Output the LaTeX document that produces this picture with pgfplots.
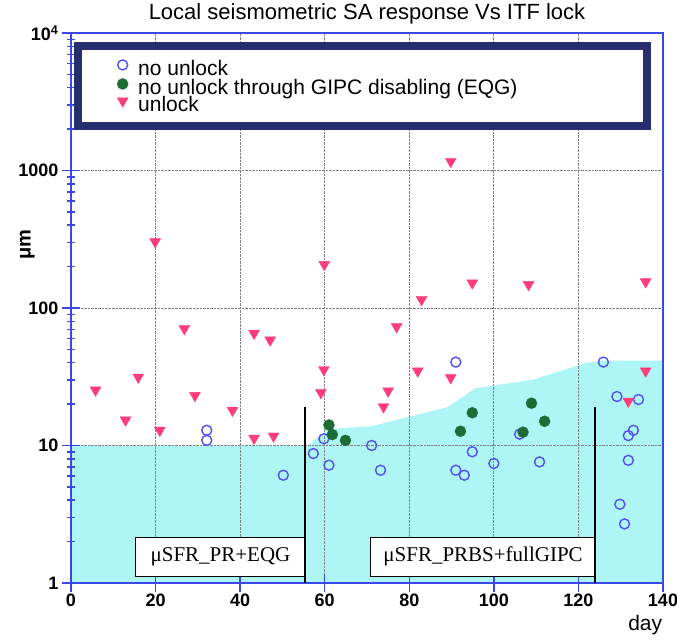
\documentclass[border=0pt]{standalone}
\usepackage{fontspec}
\setmainfont{Liberation Sans}
\newfontfamily\seriffont{Liberation Serif}
\usepackage{pgfplots}
\pgfplotsset{compat=1.18}
\definecolor{axblue}{HTML}{3A48E8}
\definecolor{navybox}{HTML}{262E70}
\definecolor{cyanfill}{HTML}{AEF6F6}
\definecolor{pinkm}{HTML}{FF3D7A}
\definecolor{bluec}{HTML}{5050F5}
\definecolor{greenm}{HTML}{1D6B35}
\begin{document}
\begin{tikzpicture}
\begin{axis}[
  set layers,
  scale only axis, width=592pt, height=550pt,
  ymode=log, xmin=0, xmax=140, ymin=1, ymax=10000,
  xtick={0,20,40,60,80,100,120,140},
  xticklabels={0,20,40,60,80,100,120,140},
  ytick={1,10,100,1000,10000},
  yticklabels={1,10,100,1000,10\textsuperscript{4}},
  minor ytick={2,3,4,5,6,7,8,9,20,30,40,50,60,70,80,90,200,300,400,500,600,700,800,900,2000,3000,4000,5000,6000,7000,8000,9000},
  xtick pos=bottom, ytick pos=left,
  tick align=center, major tick length=18pt, minor tick length=8pt,
  tick style={axblue, line width=1.5pt},
  axis line style={axblue, line width=1.8pt},
  grid=major,
  major grid style={densely dotted, gray, line width=0.9pt},
  tick label style={font=\fontsize{18}{18}\selectfont\bfseries},
  xticklabel style={yshift=2pt},
  title={Local seismometric SA response Vs ITF lock},
  title style={font=\fontsize{22}{24}\selectfont, at={(axis description cs:0.5,1)}, anchor=base, yshift=7pt},
  ylabel={μm},
  ylabel style={font=\fontsize{20}{20}\selectfont\bfseries, at={(axis description cs:-0.074,0.615)}, anchor=center},
  xlabel={day},
  xlabel style={font=\fontsize{21}{24}\selectfont, at={(axis description cs:0.97,-0.076)}, anchor=center},
  legend style={at={(axis description cs:0.0726,0.955)}, anchor=north west, draw=none, fill=none,
    font=\fontsize{21}{24}\selectfont, row sep=0pt, column sep=10pt,
    nodes={inner sep=0pt, text height=14pt, text depth=3pt}},
  legend cell align=left,
  legend image code/.code={\draw[#1] plot coordinates {(0pt,5pt)};},
]
\addplot[on layer=axis background, fill=cyanfill, draw=none, forget plot] coordinates {
(0,1) (0,10) (56,10) (61,13.2) (71,13.8) (89,19) (95.5,26) (109,30) (122,40) (126,41.5) (140,41.5) (140,1)} -- cycle;

\draw[navybox, line width=8pt, fill=white] (axis cs:1.65,2110) rectangle (axis cs:136.2,8040);

\addplot[only marks, mark=o, mark size=5pt, draw=bluec, mark options={line width=1.4pt}] coordinates {
(32.1,12.9) (32.1,10.9) (50.2,6.08) (57.3,8.74) (59.8,11.2) (61.0,7.19) (71.1,10.0) (73.2,6.61)
(91.0,40.4) (91.0,6.61) (93.0,6.08) (94.9,9.0) (100,7.4) (106.1,12.1) (110.8,7.6)
(125.9,40.4) (129.1,22.7) (134.2,21.6) (133,12.9) (131.8,11.8) (131.8,7.8) (129.8,3.74) (130.9,2.69)};
\addlegendentry{no unlock}

\addplot[only marks, mark=*, mark size=5.5pt, color=greenm] coordinates {
(61.0,14.1) (61.8,12.0) (64.9,10.9) (92.1,12.7) (94.9,17.3) (106.9,12.5) (108.9,20.3) (112.0,15.0)};
\addlegendentry{no unlock through GIPC disabling (EQG)}

\addplot[only marks, mark=triangle*, mark size=6.3pt, color=pinkm, mark options={rotate=180}] coordinates {
(5.8,25.3) (12.9,15.3) (15.9,31.4) (19.9,303) (21.0,12.9) (26.8,70.7) (29.3,23.1) (38.2,18.0)
(43.3,65.4) (43.3,11.3) (47.1,58.5) (47.9,11.7) (59.1,24.2) (59.8,35.6) (59.9,207) (73.9,19.1)
(75.0,24.9) (77.0,73.1) (82.0,34.8) (82.9,115) (89.8,31.1) (89.8,1164) (94.9,152) (108.2,148)
(131.8,21.0) (135.9,34.8) (135.9,155)};
\addlegendentry{unlock}

\draw[black, line width=1.2pt, fill=white] (axis cs:15.3,1.12) rectangle (axis cs:55.4,2.15);
\node[font=\seriffont\fontsize{21}{21}\selectfont] at (axis cs:35.35,1.55) {μSFR\_PR+EQG};
\draw[black, line width=1.2pt, fill=white] (axis cs:70.9,1.12) rectangle (axis cs:124,2.15);
\node[font=\seriffont\fontsize{21}{21}\selectfont] at (axis cs:97.45,1.55) {μSFR\_PRBS+fullGIPC};
\draw[black, line width=2pt] (axis cs:55.4,1) -- (axis cs:55.4,19);
\draw[black, line width=2pt] (axis cs:124,1) -- (axis cs:124,19);
\end{axis}
\pgfresetboundingbox
\path ([xshift=-71pt,yshift=-57pt]current axis.south west) rectangle ([xshift=14pt,yshift=33pt]current axis.north east);
\end{tikzpicture}
\end{document}
